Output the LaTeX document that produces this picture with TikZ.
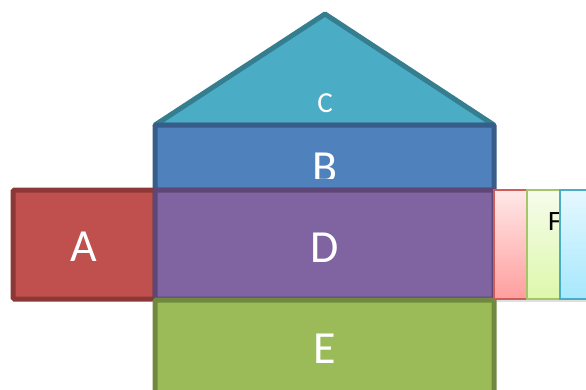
\documentclass[tikz,border=0pt]{standalone}
\usepackage{fontspec}
\setmainfont{Carlito}
\usetikzlibrary{shadows}
\definecolor{aFill}{HTML}{C0504D}\definecolor{aLine}{HTML}{8C3836}
\definecolor{dFill}{HTML}{8064A2}\definecolor{dLine}{HTML}{5C4776}
\definecolor{bFill}{HTML}{4F81BD}\definecolor{bLine}{HTML}{385D8A}
\definecolor{cFill}{HTML}{4BACC6}\definecolor{cLine}{HTML}{357E8F}
\definecolor{eFill}{HTML}{9BBB59}\definecolor{eLine}{HTML}{71893F}
\definecolor{pTop}{HTML}{FFE8E8}\definecolor{pBot}{HTML}{FF9E9E}\definecolor{pLine}{HTML}{D05C5A}
\definecolor{gTop}{HTML}{F6FCEC}\definecolor{gBot}{HTML}{DDF8AA}\definecolor{gLine}{HTML}{A6C56A}
\definecolor{cyTop}{HTML}{E6F8FF}\definecolor{cyBot}{HTML}{A6E8FC}\definecolor{cyLine}{HTML}{4BACC6}
\tikzset{
  bigbox/.style={rectangle, line width=5pt, rounded corners=1.5pt, inner sep=0pt, outer sep=0pt},
  smallbox/.style={rectangle, line width=2.6pt, inner sep=0pt, outer sep=0pt, minimum width=33pt, minimum height=109pt,
    drop shadow={shadow xshift=0pt, shadow yshift=-3pt, opacity=0.25}},
  biglabel/.style={anchor=base, text=white, font=\fontsize{46}{50}\selectfont, inner sep=0pt},
}
\begin{document}
\begin{tikzpicture}[x=1pt,y=-1pt]
\useasboundingbox (0,0) rectangle (586,389);
% roof C
\coordinate (apex) at (325,14);
\coordinate (cl) at (155,125);
\coordinate (cr) at (494,125);
\filldraw[fill=cFill, draw=cLine, line width=5pt, line join=round] (cl) -- (apex) -- (cr) -- cycle;
\node[anchor=base, text=white, font=\fontsize{29}{32}\selectfont, inner sep=0pt] (Clab) at (325,112) {C};
% B
\node[bigbox, fill=bFill, draw=bLine, minimum width=339pt, minimum height=65pt] (B) at (324.5,157.5) {};
\begin{scope}
\clip (155,127) rectangle (494,178);
\node[biglabel] (Blab) at (325,182) {B};
\end{scope}
% A
\node[bigbox, fill=aFill, draw=aLine, minimum width=142pt, minimum height=109pt] (A) at (84,244.5) {};
\node[biglabel] (Alab) at (84,261) {A};
% D
\node[bigbox, fill=dFill, draw=dLine, minimum width=339pt, minimum height=109pt] (D) at (324.5,244.5) {};
\node[biglabel] (Dlab) at (325,262) {D};
% E
\node[bigbox, fill=eFill, draw=eLine, minimum width=339pt, minimum height=100pt] (E) at (324.5,350) {};
\node[biglabel] (Elab) at (325,363) {E};
% small boxes
\node[smallbox, top color=pTop, bottom color=pBot, draw=pLine] (P) at (510.5,244.5) {};
\node[smallbox, top color=gTop, bottom color=gBot, draw=gLine] (G) at (543.5,244.5) {};
\node[anchor=base west, inner sep=0pt, font=\fontsize{28}{30}\selectfont] (Flab) at (548,230) {F};
\node[smallbox, top color=cyTop, bottom color=cyBot, draw=cyLine] (Cy) at (576.5,244.5) {};
\end{tikzpicture}
\end{document}
